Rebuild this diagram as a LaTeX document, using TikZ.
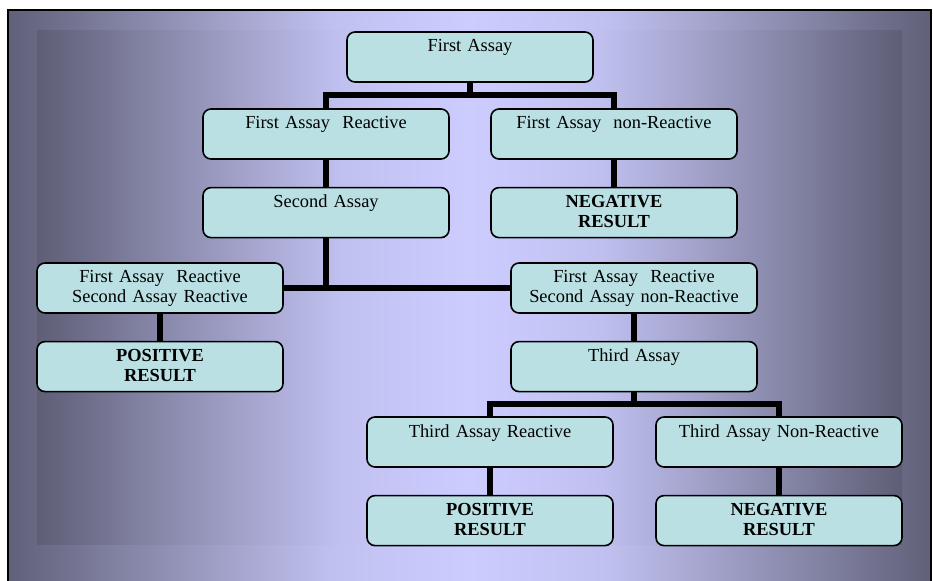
\documentclass[tikz,border=0pt]{standalone}
\usepackage{fontspec}
\setmainfont{Liberation Serif}
\usetikzlibrary{positioning,calc}

\definecolor{boxfill}{RGB}{186,224,227}
\definecolor{bgedge}{RGB}{94,94,118}
\definecolor{bgouter}{RGB}{96,96,121}
\definecolor{bgmid}{RGB}{152,152,190}
\definecolor{bgsoft}{RGB}{192,192,240}
\definecolor{bglight}{RGB}{204,204,255}

\pgfdeclarehorizontalshading{bgfade}{100bp}{color(0bp)=(bgedge); color(25bp)=(bgedge); color(35bp)=(bgmid); color(42.5bp)=(bgsoft); color(50bp)=(bglight); color(57.5bp)=(bgsoft); color(65bp)=(bgmid); color(75bp)=(bgedge); color(100bp)=(bgedge)}
\pgfdeclarehorizontalshading{bgfadeout}{100bp}{color(0bp)=(bgouter); color(25bp)=(bgouter); color(35bp)=(bgmid); color(42.5bp)=(bgsoft); color(50bp)=(bglight); color(57.5bp)=(bgsoft); color(65bp)=(bgmid); color(75bp)=(bgouter); color(100bp)=(bgouter)}

\begin{document}
\begin{tikzpicture}[x=0.75pt,y=-0.75pt,
  box/.style={draw,line width=1.2pt,rounded corners=6pt,fill=boxfill,
    text width=184.5pt,align=center,inner sep=0pt,
    text height=15pt,text depth=22.5pt,font=\fontsize{13.8}{15}\selectfont},
  result/.style={box,font=\fontsize{13.8}{15}\selectfont\bfseries},
  link/.style={line width=4.5pt}]
  \clip (0,0) rectangle (933,581);
  \fill[white] (0,0) rectangle (933,581);
  \shadedraw[shading=bgfadeout,line width=0.8pt] (8,10) rectangle (931,600);
  \shade[shading=bgfade] (37,31) rectangle (902,544);

  \node[box] (first) at (470,57) {First Assay};
  \node[box] (firstR) at (326,134) {First Assay~ Reactive};
  \node[box] (firstN) at (614,134) {First Assay~ non-Reactive};
  \node[box,below=20.25pt of firstR] (second) {Second Assay};
  \node[result,below=20.25pt of firstN] (neg1) {NEGATIVE\\RESULT};
  \node[box] (bothR) at (160,288) {First Assay~ Reactive\\Second Assay Reactive};
  \node[box] (secondN) at (634,288) {First Assay~ Reactive\\Second Assay non-Reactive};
  \node[result,below=20.25pt of bothR] (pos1) {POSITIVE\\RESULT};
  \node[box,below=20.25pt of secondN] (third) {Third Assay};
  \node[box] (thirdR) at (490,442) {Third Assay Reactive};
  \node[box] (thirdN) at (779,442) {Third Assay Non-Reactive};
  \node[result,below=20.25pt of thirdR] (pos2) {POSITIVE\\RESULT};
  \node[result,below=20.25pt of thirdN] (neg2) {NEGATIVE\\RESULT};

  \coordinate (fork1) at ($(first.south)!0.5!(first.south |- firstR.north)$);
  \coordinate (fork2) at ($(third.south)!0.5!(third.south |- thirdR.north)$);
  \draw[link] (first.south) -- (fork1);
  \draw[link] (firstR.north) |- (fork1) -| (firstN.north);
  \draw[link] (firstR) -- (second);
  \draw[link] (firstN) -- (neg1);
  \draw[link] (second.south) -- (second.south |- bothR.east);
  \draw[link] (bothR.east) -- (secondN.west);
  \draw[link] (bothR) -- (pos1);
  \draw[link] (secondN) -- (third);
  \draw[link] (third.south) -- (fork2);
  \draw[link] (thirdR.north) |- (fork2) -| (thirdN.north);
  \draw[link] (thirdR) -- (pos2);
  \draw[link] (thirdN) -- (neg2);
\end{tikzpicture}
\end{document}
